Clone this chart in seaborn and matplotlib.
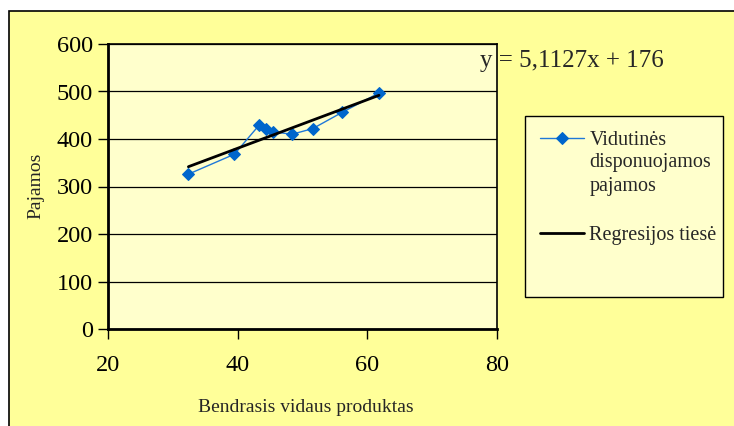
import matplotlib
matplotlib.use("Agg")
import matplotlib.pyplot as plt
import pandas as pd
import seaborn as sns
from matplotlib.patches import Rectangle

# ── Data ──────────────────────────────────────────────────
bvp = [32.4, 39.5, 43.3, 44.4, 45.5, 48.4, 51.6, 56.1, 61.8]
pajamos = [326, 368, 429, 422, 415, 410, 422, 456, 497]
slope = 5.1127
intercept = 176
series_label = ["Vidutinės", "disponuojamos", "pajamos"]
reg_label = "Regresijos tiesė"
x_ticks = [20, 40, 60, 80]
y_ticks = [0, 100, 200, 300, 400, 500, 600]

df = pd.DataFrame({"x": bvp, "y": pajamos})
reg = pd.DataFrame({"x": [min(bvp), max(bvp)]})
reg["y"] = slope * reg["x"] + intercept

sns.set_style("white")
plt.rcParams["font.family"] = ["Liberation Serif", "DejaVu Serif"]

W, H = 734, 426
fig = plt.figure(figsize=(W / 100, H / 100), dpi=100)
fig.patch.set_facecolor("white")

# outer chart area frame
fig.add_artist(Rectangle((9 / W, -0.05), 1.1, (H - 11) / H + 0.05,
                         transform=fig.transFigure, facecolor="#FFFF99",
                         edgecolor="black", linewidth=1.2, zorder=0))

ax = fig.add_axes([108 / W, (H - 329) / H, (497 - 108) / W, (329 - 44) / H])
ax.set_facecolor("#FFFFCC")

sns.lineplot(data=df, x="x", y="y", ax=ax, color="#1F78D8", linewidth=1,
             marker="D", markersize=6.5, markerfacecolor="#0066CC",
             markeredgecolor="#0066CC", label=series_label[0], sort=False)
sns.lineplot(data=reg, x="x", y="y", ax=ax, color="black", linewidth=2,
             label=reg_label)

ax.set_xlim(20, 80)
ax.set_ylim(0, 600)
ax.set_xticks(x_ticks)
ax.set_yticks(y_ticks)
ax.yaxis.grid(True, color="black", linewidth=0.9)
ax.set_axisbelow(True)
for s in ax.spines.values():
    s.set_color("black")
    s.set_linewidth(1.2)
ax.spines["left"].set_linewidth(2)
ax.spines["bottom"].set_linewidth(2)
ax.tick_params(axis="both", direction="out", length=7, width=1, labelsize=17.5,
               colors="black", bottom=True, left=True, pad=4)
ax.tick_params(axis="x", pad=12)
ax.set_xlabel("")
ax.set_ylabel("")

fig.text(306 / W, 1 - 407 / H, "Bendrasis vidaus produktas", fontsize=14,
         ha="center", va="center")
fig.text(36 / W, 1 - 186 / H, "Pajamos", fontsize=14, rotation=90,
         ha="center", va="center")
fig.text(480 / W, 1 - 61 / H, "y = 5,1127x + 176", fontsize=18,
         ha="left", va="center")

# legend box
handles, labels = ax.get_legend_handles_labels()
ax.get_legend().remove()
fig.add_artist(Rectangle((525 / W, 1 - 297 / H), 198 / W, 181 / H,
                         transform=fig.transFigure, facecolor="#FFFFCC",
                         edgecolor="black", linewidth=1, zorder=1))
leg = fig.legend(handles, labels, loc="upper left",
                 bbox_to_anchor=(532 / W, 1 - 123 / H), frameon=False,
                 fontsize=14.5, handlelength=2.2, handletextpad=0.25,
                 labelspacing=3.75, borderaxespad=0)
leg.set_zorder(2)
fig.canvas.draw()
first = leg.get_texts()[0].get_window_extent()
fig.text(first.x0 / W, (first.y0 - 3) / H, "\n".join(series_label[1:]),
         fontsize=14.5, ha="left", va="top", linespacing=1.35, zorder=3)

fig.savefig("out.png", dpi=100)
